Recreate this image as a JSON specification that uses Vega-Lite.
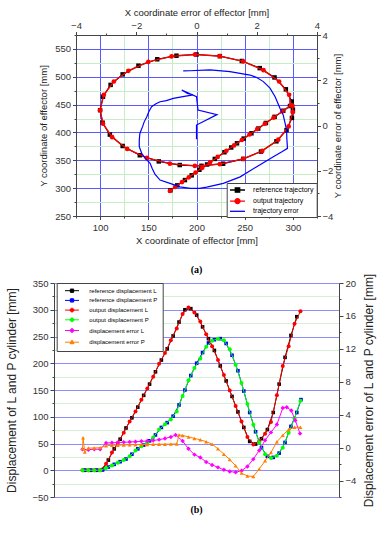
{
  "$schema": "https://vega.github.io/schema/vega-lite/v6.json",
  "autosize": {"type": "none"},
  "padding": {"left": 54, "top": 35, "right": 325, "bottom": 515},
  "background": "white",
  "config": {
    "font": "Liberation Sans",
    "view": {"stroke": null},
    "axis": {
      "labelFont": "Liberation Sans", "titleFont": "Liberation Sans",
      "labelFontSize": 9.5, "titleFontSize": 9.5,
      "labelColor": "#333333", "titleColor": "#222222", "titleFontWeight": "normal",
      "domainColor": "#444444", "tickColor": "#444444",
      "labelFlush": false, "labelOverlap": false, "labelPadding": 2
    }
  },
  "datasets": {
    "traj": [
      {"s":"ref","i":0,"x":173,"y":296.2},{"s":"ref","i":1,"x":180,"y":305},{"s":"ref","i":2,"x":188,"y":314.5},{"s":"ref","i":3,"x":195,"y":323},{"s":"ref","i":4,"x":203,"y":333},{"s":"ref","i":5,"x":211,"y":342.5},{"s":"ref","i":6,"x":219,"y":352.5},{"s":"ref","i":7,"x":229,"y":364.5},{"s":"ref","i":8,"x":236,"y":373},{"s":"ref","i":9,"x":242,"y":380.5},{"s":"ref","i":10,"x":249,"y":389},{"s":"ref","i":11,"x":257,"y":398.5},{"s":"ref","i":12,"x":264,"y":407},{"s":"ref","i":13,"x":272,"y":417},{"s":"ref","i":14,"x":281,"y":428},{"s":"ref","i":15,"x":290,"y":439},{"s":"ref","i":16,"x":297,"y":447.5},
      {"s":"ref","i":17,"x":298.8,"y":455.6},{"s":"ref","i":18,"x":292.7,"y":477.5},{"s":"ref","i":19,"x":280.9,"y":498.8},{"s":"ref","i":20,"x":265.6,"y":515.5},{"s":"ref","i":21,"x":247,"y":528.3},{"s":"ref","i":22,"x":224.2,"y":537},{"s":"ref","i":23,"x":200,"y":540},{"s":"ref","i":24,"x":179.2,"y":537.8},{"s":"ref","i":25,"x":159.3,"y":531.4},{"s":"ref","i":26,"x":139.8,"y":519.9},{"s":"ref","i":27,"x":123.4,"y":504.3},{"s":"ref","i":28,"x":110.9,"y":485.4},{"s":"ref","i":29,"x":103,"y":464.2},{"s":"ref","i":30,"x":100,"y":440},{"s":"ref","i":31,"x":102.6,"y":417.5},{"s":"ref","i":32,"x":110.1,"y":396.2},{"s":"ref","i":33,"x":123.4,"y":375.7},{"s":"ref","i":34,"x":141.2,"y":359.1},{"s":"ref","i":35,"x":160.9,"y":348},{"s":"ref","i":36,"x":182.6,"y":341.5},{"s":"ref","i":37,"x":205.2,"y":340.1},{"s":"ref","i":38,"x":227.6,"y":343.9},{"s":"ref","i":39,"x":248.5,"y":352.5},{"s":"ref","i":40,"x":266.9,"y":365.7},{"s":"ref","i":41,"x":282.9,"y":384.1},{"s":"ref","i":42,"x":293.4,"y":404.2},{"s":"ref","i":43,"x":299,"y":426.1},{"s":"ref","i":44,"x":300,"y":441},
      {"s":"out","i":0,"x":172.4,"y":295},{"s":"out","i":1,"x":178,"y":302.3},{"s":"out","i":2,"x":185,"y":310.9},{"s":"out","i":3,"x":192,"y":319.4},{"s":"out","i":4,"x":199,"y":328},{"s":"out","i":5,"x":206,"y":336.5},{"s":"out","i":6,"x":214,"y":346.2},{"s":"out","i":7,"x":222,"y":356},{"s":"out","i":8,"x":231,"y":367},{"s":"out","i":9,"x":239,"y":376.7},{"s":"out","i":10,"x":247,"y":386.5},{"s":"out","i":11,"x":255,"y":396.3},{"s":"out","i":12,"x":263,"y":406},{"s":"out","i":13,"x":271,"y":415.8},{"s":"out","i":14,"x":280,"y":426.8},{"s":"out","i":15,"x":289,"y":437.7},{"s":"out","i":16,"x":298,"y":448.7},
      {"s":"out","i":17,"x":296.1,"y":467.6},{"s":"out","i":18,"x":285.7,"y":491.5},{"s":"out","i":19,"x":269.5,"y":511.9},{"s":"out","i":20,"x":248.5,"y":527.5},{"s":"out","i":21,"x":224.2,"y":537},{"s":"out","i":22,"x":198.3,"y":540},{"s":"out","i":23,"x":174.1,"y":536.6},{"s":"out","i":24,"x":150,"y":526.6},{"s":"out","i":25,"x":129.3,"y":510.7},{"s":"out","i":26,"x":114.3,"y":491.5},{"s":"out","i":27,"x":103.9,"y":467.6},{"s":"out","i":28,"x":100,"y":440},{"s":"out","i":29,"x":103,"y":415.8},{"s":"out","i":30,"x":112.5,"y":391.5},{"s":"out","i":31,"x":128.1,"y":370.5},{"s":"out","i":32,"x":148.5,"y":354.3},{"s":"out","i":33,"x":172.4,"y":343.9},{"s":"out","i":34,"x":198.3,"y":340},{"s":"out","i":35,"x":224.2,"y":343},{"s":"out","i":36,"x":248.5,"y":352.5},{"s":"out","i":37,"x":268.2,"y":366.9},{"s":"out","i":38,"x":284.8,"y":387},{"s":"out","i":39,"x":295.6,"y":410.8},{"s":"out","i":40,"x":299.9,"y":436.5},{"s":"out","i":41,"x":299.6,"y":448}
    ],
    "err": [
      {"i":0,"ex":0,"ey":-0.61},{"i":1,"ex":0,"ey":0.02},{"i":2,"ex":0.68,"ey":0.48},{"i":3,"ex":0.05,"ey":0.68},{"i":4,"ex":0,"ey":1.27},{"i":5,"ex":-0.49,"ey":1.57},{"i":6,"ex":-0.3,"ey":1.42},{"i":7,"ex":-0.11,"ey":1.35},{"i":8,"ex":-0.45,"ey":1.28},{"i":9,"ex":-0.77,"ey":1.2},{"i":10,"ex":-1.0,"ey":1.1},{"i":11,"ex":-1.21,"ey":1.05},{"i":12,"ex":-1.36,"ey":0.95},{"i":13,"ex":-1.49,"ey":0.83},{"i":14,"ex":-1.58,"ey":0.62},{"i":15,"ex":-1.65,"ey":0.39},{"i":16,"ex":-1.74,"ey":0.15},{"i":17,"ex":-1.79,"ey":-0.05},{"i":18,"ex":-1.88,"ey":-0.35},{"i":19,"ex":-1.9,"ey":-0.65},{"i":20,"ex":-1.9,"ey":-0.94},{"i":21,"ex":-1.82,"ey":-1.23},{"i":22,"ex":-1.7,"ey":-1.45},{"i":23,"ex":-1.54,"ey":-1.67},{"i":24,"ex":-1.47,"ey":-1.9},{"i":25,"ex":-1.38,"ey":-2.15},{"i":26,"ex":-1.21,"ey":-2.41},{"i":27,"ex":-0.88,"ey":-2.56},{"i":28,"ex":-0.55,"ey":-2.71},{"i":29,"ex":-0.2,"ey":-2.78},{"i":30,"ex":0.1,"ey":-2.78},{"i":31,"ex":0.34,"ey":-2.72},{"i":32,"ex":0.89,"ey":-2.56},{"i":33,"ex":1.45,"ey":-2.27},{"i":34,"ex":2.0,"ey":-1.82},{"i":35,"ex":2.55,"ey":-1.38},{"i":36,"ex":2.85,"ey":-1.15},{"i":37,"ex":3.02,"ey":-1.01},{"i":38,"ex":3.0,"ey":-0.6},{"i":39,"ex":2.99,"ey":-0.2},{"i":40,"ex":2.94,"ey":0.1},{"i":41,"ex":2.88,"ey":0.46},{"i":42,"ex":2.77,"ey":0.76},{"i":43,"ex":2.68,"ey":1.05},{"i":44,"ex":2.61,"ey":1.27},{"i":45,"ex":2.44,"ey":1.65},{"i":46,"ex":2.22,"ey":1.94},{"i":47,"ex":2.0,"ey":2.12},{"i":48,"ex":1.78,"ey":2.23},{"i":49,"ex":1.11,"ey":2.38},{"i":50,"ex":0.45,"ey":2.46},{"i":51,"ex":-0.22,"ey":2.42},{"i":52,"ex":-0.44,"ey":2.41}
    ],
    "disp": [
      {"s":"refL","t":0.12,"v":0},{"s":"refL","t":0.43,"v":0},{"s":"refL","t":0.74,"v":0},{"s":"refL","t":1.05,"v":1},{"s":"refL","t":1.36,"v":19},{"s":"refL","t":1.67,"v":40},{"s":"refL","t":1.98,"v":58},{"s":"refL","t":2.29,"v":79},{"s":"refL","t":2.6,"v":98},{"s":"refL","t":2.91,"v":118},{"s":"refL","t":3.22,"v":140},{"s":"refL","t":3.53,"v":161},{"s":"refL","t":3.84,"v":184},{"s":"refL","t":4.15,"v":206},{"s":"refL","t":4.46,"v":227},{"s":"refL","t":4.77,"v":251},{"s":"refL","t":5.08,"v":277},{"s":"refL","t":5.39,"v":300},{"s":"refL","t":5.7,"v":302},{"s":"refL","t":6.01,"v":290},{"s":"refL","t":6.32,"v":268},{"s":"refL","t":6.63,"v":246},{"s":"refL","t":6.94,"v":224},{"s":"refL","t":7.25,"v":195},{"s":"refL","t":7.56,"v":167},{"s":"refL","t":7.87,"v":138},{"s":"refL","t":8.18,"v":109},{"s":"refL","t":8.49,"v":80},{"s":"refL","t":8.8,"v":54},{"s":"refL","t":9.11,"v":49},{"s":"refL","t":9.42,"v":59},{"s":"refL","t":9.73,"v":76},{"s":"refL","t":10.04,"v":108},{"s":"refL","t":10.35,"v":161},{"s":"refL","t":10.66,"v":211},{"s":"refL","t":10.97,"v":252},{"s":"refL","t":11.28,"v":287},
      {"s":"refP","t":0.12,"v":0},{"s":"refP","t":0.43,"v":0},{"s":"refP","t":0.74,"v":0},{"s":"refP","t":1.05,"v":1},{"s":"refP","t":1.36,"v":6},{"s":"refP","t":1.67,"v":11},{"s":"refP","t":1.98,"v":16},{"s":"refP","t":2.29,"v":21},{"s":"refP","t":2.6,"v":30},{"s":"refP","t":2.91,"v":40},{"s":"refP","t":3.22,"v":47},{"s":"refP","t":3.53,"v":55},{"s":"refP","t":3.84,"v":66},{"s":"refP","t":4.15,"v":80},{"s":"refP","t":4.46,"v":89},{"s":"refP","t":4.77,"v":101},{"s":"refP","t":5.08,"v":122},{"s":"refP","t":5.39,"v":150},{"s":"refP","t":5.7,"v":177},{"s":"refP","t":6.01,"v":200},{"s":"refP","t":6.32,"v":220},{"s":"refP","t":6.63,"v":238},{"s":"refP","t":6.94,"v":244},{"s":"refP","t":7.25,"v":246},{"s":"refP","t":7.56,"v":237},{"s":"refP","t":7.87,"v":215},{"s":"refP","t":8.18,"v":186},{"s":"refP","t":8.49,"v":148},{"s":"refP","t":8.8,"v":108},{"s":"refP","t":9.11,"v":72},{"s":"refP","t":9.42,"v":42},{"s":"refP","t":9.73,"v":26},{"s":"refP","t":10.04,"v":24},{"s":"refP","t":10.35,"v":32},{"s":"refP","t":10.66,"v":52},{"s":"refP","t":10.97,"v":82},{"s":"refP","t":11.28,"v":108},{"s":"refP","t":11.5,"v":132},
      {"s":"outL","t":0,"v":0},{"s":"outL","t":0.31,"v":0},{"s":"outL","t":0.62,"v":0},{"s":"outL","t":0.93,"v":0},{"s":"outL","t":1.24,"v":12},{"s":"outL","t":1.55,"v":33},{"s":"outL","t":1.86,"v":51},{"s":"outL","t":2.17,"v":70},{"s":"outL","t":2.48,"v":91},{"s":"outL","t":2.79,"v":110},{"s":"outL","t":3.1,"v":132},{"s":"outL","t":3.41,"v":153},{"s":"outL","t":3.72,"v":175},{"s":"outL","t":4.03,"v":199},{"s":"outL","t":4.34,"v":219},{"s":"outL","t":4.65,"v":243},{"s":"outL","t":4.96,"v":265},{"s":"outL","t":5.27,"v":292},{"s":"outL","t":5.58,"v":304},{"s":"outL","t":5.89,"v":295},{"s":"outL","t":6.2,"v":278},{"s":"outL","t":6.51,"v":254},{"s":"outL","t":6.82,"v":232},{"s":"outL","t":7.13,"v":206},{"s":"outL","t":7.44,"v":178},{"s":"outL","t":7.75,"v":149},{"s":"outL","t":8.06,"v":120},{"s":"outL","t":8.37,"v":91},{"s":"outL","t":8.68,"v":62},{"s":"outL","t":8.99,"v":48},{"s":"outL","t":9.3,"v":54},{"s":"outL","t":9.61,"v":68},{"s":"outL","t":9.92,"v":90},{"s":"outL","t":10.23,"v":140},{"s":"outL","t":10.54,"v":195},{"s":"outL","t":10.85,"v":232},{"s":"outL","t":11.16,"v":274},{"s":"outL","t":11.47,"v":297},
      {"s":"outP","t":0,"v":0},{"s":"outP","t":0.31,"v":0},{"s":"outP","t":0.62,"v":0},{"s":"outP","t":0.93,"v":0},{"s":"outP","t":1.24,"v":4},{"s":"outP","t":1.55,"v":9},{"s":"outP","t":1.86,"v":14},{"s":"outP","t":2.17,"v":19},{"s":"outP","t":2.48,"v":26},{"s":"outP","t":2.79,"v":37},{"s":"outP","t":3.1,"v":45},{"s":"outP","t":3.41,"v":52},{"s":"outP","t":3.72,"v":61},{"s":"outP","t":4.03,"v":76},{"s":"outP","t":4.34,"v":86},{"s":"outP","t":4.65,"v":95},{"s":"outP","t":4.96,"v":110},{"s":"outP","t":5.27,"v":139},{"s":"outP","t":5.58,"v":168},{"s":"outP","t":5.89,"v":191},{"s":"outP","t":6.2,"v":209},{"s":"outP","t":6.51,"v":231},{"s":"outP","t":6.82,"v":242},{"s":"outP","t":7.13,"v":246},{"s":"outP","t":7.44,"v":243},{"s":"outP","t":7.75,"v":226},{"s":"outP","t":8.06,"v":197},{"s":"outP","t":8.37,"v":163},{"s":"outP","t":8.68,"v":124},{"s":"outP","t":8.99,"v":85},{"s":"outP","t":9.3,"v":52},{"s":"outP","t":9.61,"v":30},{"s":"outP","t":9.92,"v":23},{"s":"outP","t":10.23,"v":27},{"s":"outP","t":10.54,"v":42},{"s":"outP","t":10.85,"v":70},{"s":"outP","t":11.16,"v":97},{"s":"outP","t":11.47,"v":130}
    ],
    "derr": [
      {"s":"errL","t":0,"e":-0.2},{"s":"errL","t":0.31,"e":-0.25},{"s":"errL","t":0.62,"e":-0.2},{"s":"errL","t":0.93,"e":-0.2},{"s":"errL","t":1.24,"e":0.55},{"s":"errL","t":1.55,"e":0.6},{"s":"errL","t":1.86,"e":0.62},{"s":"errL","t":2.17,"e":0.65},{"s":"errL","t":2.48,"e":0.68},{"s":"errL","t":2.79,"e":0.72},{"s":"errL","t":3.1,"e":0.76},{"s":"errL","t":3.41,"e":0.8},{"s":"errL","t":3.72,"e":0.87},{"s":"errL","t":4.03,"e":0.97},{"s":"errL","t":4.34,"e":1.1},{"s":"errL","t":4.65,"e":1.3},{"s":"errL","t":4.9,"e":1.52},{"s":"errL","t":5.27,"e":0.8},{"s":"errL","t":5.58,"e":-0.15},{"s":"errL","t":5.89,"e":-0.85},{"s":"errL","t":6.2,"e":-1.2},{"s":"errL","t":6.51,"e":-1.75},{"s":"errL","t":6.82,"e":-2.1},{"s":"errL","t":7.13,"e":-2.4},{"s":"errL","t":7.44,"e":-2.7},{"s":"errL","t":7.75,"e":-2.9},{"s":"errL","t":8.06,"e":-3.0},{"s":"errL","t":8.37,"e":-2.8},{"s":"errL","t":8.68,"e":-2.3},{"s":"errL","t":8.99,"e":-1.4},{"s":"errL","t":9.3,"e":-0.35},{"s":"errL","t":9.61,"e":0.9},{"s":"errL","t":9.92,"e":1.85},{"s":"errL","t":10.23,"e":2.8},{"s":"errL","t":10.54,"e":4.8},{"s":"errL","t":10.75,"e":4.9},{"s":"errL","t":10.99,"e":4.5},{"s":"errL","t":11.2,"e":3.3},{"s":"errL","t":11.45,"e":1.7},
      {"s":"errP","t":0,"e":-0.1},{"s":"errP","t":0.03,"e":1.2},{"s":"errP","t":0.12,"e":-0.55},{"s":"errP","t":0.31,"e":-0.05},{"s":"errP","t":0.62,"e":-0.05},{"s":"errP","t":0.93,"e":0},{"s":"errP","t":1.24,"e":0.22},{"s":"errP","t":1.55,"e":0.28},{"s":"errP","t":1.86,"e":0.3},{"s":"errP","t":2.17,"e":0.32},{"s":"errP","t":2.48,"e":0.34},{"s":"errP","t":2.79,"e":0.35},{"s":"errP","t":3.1,"e":0.37},{"s":"errP","t":3.41,"e":0.38},{"s":"errP","t":3.72,"e":0.4},{"s":"errP","t":4.03,"e":0.41},{"s":"errP","t":4.34,"e":0.42},{"s":"errP","t":4.65,"e":0.43},{"s":"errP","t":4.96,"e":0.45},{"s":"errP","t":5.08,"e":1.55},{"s":"errP","t":5.27,"e":1.48},{"s":"errP","t":5.58,"e":1.3},{"s":"errP","t":5.89,"e":1.12},{"s":"errP","t":6.2,"e":0.95},{"s":"errP","t":6.51,"e":0.72},{"s":"errP","t":6.82,"e":0.42},{"s":"errP","t":7.13,"e":-0.15},{"s":"errP","t":7.44,"e":-0.8},{"s":"errP","t":7.75,"e":-1.45},{"s":"errP","t":8.06,"e":-2.2},{"s":"errP","t":8.37,"e":-3.1},{"s":"errP","t":8.68,"e":-3.45},{"s":"errP","t":8.99,"e":-3.5},{"s":"errP","t":9.3,"e":-2.6},{"s":"errP","t":9.61,"e":-1.6},{"s":"errP","t":9.92,"e":-0.6},{"s":"errP","t":10.23,"e":0.7},{"s":"errP","t":10.54,"e":1.5},{"s":"errP","t":10.85,"e":2.2},{"s":"errP","t":11.16,"e":2.47},{"s":"errP","t":11.47,"e":2.47}
    ]
  },
  "bounds": "flush",
  "center": true,
  "spacing": 67,
  "resolve": {"scale": {"fill": "independent", "stroke": "independent", "shape": "independent"}, "legend": {"fill": "independent", "stroke": "independent", "shape": "independent"}},
  "vconcat": [
    {
      "width": 241,
      "height": 181,
      "title": {"text": "(a)", "orient": "bottom", "font": "Liberation Serif", "fontSize": 10, "fontWeight": "bold", "color": "#000000", "offset": 20, "anchor": "middle"},
      "layer": [
        {
          "data": {"name": "traj"},
          "encoding": {
            "x": {"field": "x", "type": "quantitative", "scale": {"domain": [75, 325], "nice": false, "zero": false},
              "axis": {"orient": "bottom", "title": "X coordinate of effector [mm]", "values": [75,100,125,150,175,200,225,250,275,300,325],
                "labelExpr": "datum.value % 50 === 0 ? datum.label : ''", "grid": true,
                "gridColor": {"condition": {"test": "datum.value % 50 === 0", "value": "#5a5aff"}, "value": "#c6eec6"},
                "tickSize": {"condition": {"test": "datum.value % 50 === 0", "value": 3.5}, "value": 2},
                "labelPadding": 3, "titlePadding": 3}},
            "y": {"field": "y", "type": "quantitative", "scale": {"domain": [250, 575], "nice": false, "zero": false},
              "axis": {"orient": "left", "title": "Y coordinate of effector [mm]", "values": [250,275,300,325,350,375,400,425,450,475,500,525,550,575],
                "labelExpr": "datum.value % 50 === 0 ? datum.label : ''", "grid": true,
                "gridColor": {"condition": {"test": "datum.value % 50 === 0", "value": "#5a5aff"}, "value": "#c6eec6"},
                "tickSize": {"condition": {"test": "datum.value % 50 === 0", "value": 3.5}, "value": 2},
                "labelPadding": 2, "titlePadding": 6}},
            "order": {"field": "i", "type": "quantitative"}
          },
          "layer": [
            {"transform": [{"filter": "datum.s === 'ref'"}],
             "mark": {"type": "line", "color": "#000000", "strokeWidth": 1.2, "point": {"filled": true, "shape": "square", "size": 20, "color": "#000000", "opacity": 1}}},
            {"transform": [{"filter": "datum.s === 'out'"}],
             "mark": {"type": "line", "color": "#ff0000", "strokeWidth": 1.3, "point": {"filled": true, "shape": "circle", "size": 22, "color": "#ff0000", "opacity": 1}}},
            {"transform": [{"filter": "false"}],
             "mark": {"type": "point", "filled": true, "opacity": 1},
             "encoding": {
               "fill": {"field": "s", "type": "nominal",
                 "scale": {"domain": ["reference trajectory", "output trajectory", "trajectory error"], "range": ["#000000", "#ff0000", "#0000ff"]},
                 "legend": {"orient": "none", "legendX": 150.7, "legendY": 148, "title": null, "symbolSize": 49, "symbolStrokeWidth": 1.3, "symbolOffset": 3.8, "labelOffset": 11.1, "labelFontSize": 7, "labelFont": "Liberation Sans", "labelColor": "#000000", "rowPadding": 0.15, "padding": 2.5, "strokeColor": "#444444", "fillColor": "#ffffff", "cornerRadius": 0}},
               "stroke": {"field": "s", "type": "nominal",
                 "scale": {"domain": ["reference trajectory", "output trajectory", "trajectory error"], "range": ["#000000", "#ff0000", "#0000ff"]},
                 "legend": {"orient": "none", "legendX": 150.7, "legendY": 148, "title": null, "symbolSize": 49, "symbolStrokeWidth": 1.3, "symbolOffset": 3.8, "labelOffset": 11.1, "labelFontSize": 7, "labelFont": "Liberation Sans", "labelColor": "#000000", "rowPadding": 0.15, "padding": 2.5, "strokeColor": "#444444", "fillColor": "#ffffff", "cornerRadius": 0}},
               "shape": {"field": "s", "type": "nominal",
                 "scale": {"domain": ["reference trajectory", "output trajectory", "trajectory error"], "range": ["M-2.14,0H2.14M-0.63,-0.63H0.63V0.63H-0.63Z", "M-2.14,0H2.14M-0.71,0A0.71,0.71,0,1,0,0.71,0A0.71,0.71,0,1,0,-0.71,0Z", "M-2.14,0H2.14"]},
                 "legend": {"orient": "none", "legendX": 150.7, "legendY": 148, "title": null, "symbolSize": 49, "symbolStrokeWidth": 1.3, "symbolOffset": 3.8, "labelOffset": 11.1, "labelFontSize": 7, "labelFont": "Liberation Sans", "labelColor": "#000000", "rowPadding": 0.15, "padding": 2.5, "strokeColor": "#444444", "fillColor": "#ffffff", "cornerRadius": 0}}
             }}
          ]
        },
        {
          "data": {"name": "err"},
          "mark": {"type": "line", "color": "#0000ff", "strokeWidth": 1.2},
          "encoding": {
            "x": {"field": "ex", "type": "quantitative", "scale": {"domain": [-4, 4], "nice": false, "zero": false},
              "axis": {"orient": "top", "title": "X coordinate error of effector [mm]", "values": [-4,-3,-2,-1,0,1,2,3,4],
                "labelExpr": "datum.value % 2 === 0 ? datum.label : ''", "grid": false,
                "tickSize": {"condition": {"test": "datum.value % 2 === 0", "value": 3.5}, "value": 2},
                "labelPadding": 1.5, "titlePadding": 3}},
            "y": {"field": "ey", "type": "quantitative", "scale": {"domain": [-4, 4], "nice": false, "zero": false},
              "axis": {"orient": "right", "title": "Y coordinate error of effector [mm]", "titleAngle": 270, "titleBaseline": "top", "values": [-4,-3,-2,-1,0,1,2,3,4],
                "labelExpr": "datum.value % 2 === 0 ? datum.label : ''", "grid": false,
                "tickSize": {"condition": {"test": "datum.value % 2 === 0", "value": 3.5}, "value": 2},
                "labelPadding": 1.5, "titlePadding": 0}},
            "order": {"field": "i", "type": "quantitative"}
          }
        }
      ],
      "resolve": {"scale": {"x": "independent", "y": "independent"}}
    },
    {
      "width": 285,
      "height": 214,
      "title": {"text": "(b)", "orient": "bottom", "font": "Liberation Serif", "fontSize": 10, "fontWeight": "bold", "color": "#000000", "offset": -2, "anchor": "middle"},
      "layer": [
        {
          "data": {"name": "disp"},
          "encoding": {
            "x": {"field": "t", "type": "quantitative", "scale": {"domain": [-1.5, 13.5], "nice": false, "zero": false},
              "axis": {"orient": "bottom", "title": "Time [s]", "titleFontSize": 11, "values": [-1.5,0,1.5,3,4.5,6,7.5,9,10.5,12,13.5],
                "labelExpr": "datum.value % 3 === 0 ? datum.label : ''", "grid": true,
                "gridColor": {"condition": {"test": "datum.value % 3 === 0", "value": "#8c8cff"}, "value": "#d6f0d6"},
                "tickSize": {"condition": {"test": "datum.value % 3 === 0", "value": 4}, "value": 2},
                "labelPadding": 3, "titlePadding": 4}},
            "y": {"field": "v", "type": "quantitative", "scale": {"domain": [-50, 350], "nice": false, "zero": false},
              "axis": {"orient": "left", "title": "Displacement of L and P cylinder [mm]", "titleFontSize": 12, "values": [-50,-25,0,25,50,75,100,125,150,175,200,225,250,275,300,325,350],
                "labelExpr": "datum.value % 50 === 0 ? datum.label : ''", "grid": true,
                "gridColor": {"condition": {"test": "datum.value % 50 === 0", "value": "#8c8cff"}, "value": "#d6f0d6"},
                "tickSize": {"condition": {"test": "datum.value % 50 === 0", "value": 4}, "value": 2},
                "labelPadding": 2, "titlePadding": 13}}
          },
          "layer": [
            {"transform": [{"filter": "datum.s === 'refL'"}],
             "mark": {"type": "line", "color": "#000000", "strokeWidth": 1, "point": {"filled": true, "shape": "square", "size": 13, "color": "#000000", "opacity": 1}}},
            {"transform": [{"filter": "datum.s === 'refP'"}],
             "mark": {"type": "line", "color": "#0000ff", "strokeWidth": 1, "point": {"filled": true, "shape": "square", "size": 13, "color": "#0000ff", "opacity": 1}}},
            {"transform": [{"filter": "datum.s === 'outL'"}],
             "mark": {"type": "line", "color": "#ff0000", "strokeWidth": 1, "point": {"filled": true, "shape": "circle", "size": 16, "color": "#ff0000", "opacity": 1}}},
            {"transform": [{"filter": "datum.s === 'outP'"}],
             "mark": {"type": "line", "color": "#00ff00", "strokeWidth": 1, "point": {"filled": true, "shape": "circle", "size": 16, "color": "#00ff00", "opacity": 1}}},
            {"transform": [{"filter": "false"}],
             "mark": {"type": "point", "filled": true, "opacity": 1},
             "encoding": {
               "fill": {"field": "s", "type": "nominal",
                 "scale": {"domain": ["reference displacement L", "reference displacement P", "output displacement L", "output displacement P", "displacement error L", "displacement error P"], "range": ["#000000", "#0000ff", "#ff0000", "#00ff00", "#ff00ff", "#ff8000"]},
                 "legend": {"orient": "none", "legendX": 2.7, "legendY": 0, "title": null, "symbolSize": 25, "symbolStrokeWidth": 1, "symbolOffset": 7.6, "labelOffset": 14.3, "labelFontSize": 6, "labelFont": "Liberation Sans", "labelColor": "#000000", "rowPadding": 1.7, "padding": 4.7, "strokeColor": "#444444", "fillColor": "#ffffff", "cornerRadius": 0}},
               "stroke": {"field": "s", "type": "nominal",
                 "scale": {"domain": ["reference displacement L", "reference displacement P", "output displacement L", "output displacement P", "displacement error L", "displacement error P"], "range": ["#000000", "#0000ff", "#ff0000", "#00ff00", "#ff00ff", "#ff8000"]},
                 "legend": {"orient": "none", "legendX": 2.7, "legendY": 0, "title": null, "symbolSize": 25, "symbolStrokeWidth": 1, "symbolOffset": 7.6, "labelOffset": 14.3, "labelFontSize": 6, "labelFont": "Liberation Sans", "labelColor": "#000000", "rowPadding": 1.7, "padding": 4.7, "strokeColor": "#444444", "fillColor": "#ffffff", "cornerRadius": 0}},
               "shape": {"field": "s", "type": "nominal",
                 "scale": {"domain": ["reference displacement L", "reference displacement P", "output displacement L", "output displacement P", "displacement error L", "displacement error P"],
                   "range": ["M-2.8,0H2.8M-0.66,-0.66H0.66V0.66H-0.66Z", "M-2.8,0H2.8M-0.66,-0.66H0.66V0.66H-0.66Z", "M-2.8,0H2.8M-0.75,0A0.75,0.75,0,1,0,0.75,0A0.75,0.75,0,1,0,-0.75,0Z", "M-2.8,0H2.8M-0.75,0A0.75,0.75,0,1,0,0.75,0A0.75,0.75,0,1,0,-0.75,0Z", "M-2.8,0H2.8M0,-0.9L0.9,0L0,0.9L-0.9,0Z", "M-2.8,0H2.8M0,-0.85L0.8,0.6H-0.8Z"]},
                 "legend": {"orient": "none", "legendX": 2.7, "legendY": 0, "title": null, "symbolSize": 25, "symbolStrokeWidth": 1, "symbolOffset": 7.6, "labelOffset": 14.3, "labelFontSize": 6, "labelFont": "Liberation Sans", "labelColor": "#000000", "rowPadding": 1.7, "padding": 4.7, "strokeColor": "#444444", "fillColor": "#ffffff", "cornerRadius": 0}}
             }}
          ]
        },
        {
          "data": {"name": "derr"},
          "encoding": {
            "x": {"field": "t", "type": "quantitative", "scale": {"domain": [-1.5, 13.5], "nice": false, "zero": false}, "axis": null},
            "y": {"field": "e", "type": "quantitative", "scale": {"domain": [-6, 20], "nice": false, "zero": false},
              "axis": {"orient": "right", "title": "Displacement error of L and P cylinder [mm]", "titleFontSize": 12, "titleAngle": 270, "titleBaseline": "top", "values": [-6,-4,-2,0,2,4,6,8,10,12,14,16,18,20],
                "labelExpr": "datum.value % 4 === 0 ? datum.label : ''", "grid": false,
                "tickSize": {"condition": {"test": "datum.value % 4 === 0", "value": 4}, "value": 2},
                "labelPadding": 2, "titlePadding": 7.5}}
          },
          "layer": [
            {"transform": [{"filter": "datum.s === 'errL'"}],
             "mark": {"type": "line", "color": "#ff00ff", "strokeWidth": 1, "point": {"filled": true, "shape": "diamond", "size": 20, "color": "#ff00ff", "opacity": 1}}},
            {"transform": [{"filter": "datum.s === 'errP'"}],
             "mark": {"type": "line", "color": "#ff8000", "strokeWidth": 1, "point": {"filled": true, "shape": "triangle-up", "size": 16, "color": "#ff8000", "opacity": 1}}}
          ]
        }
      ],
      "resolve": {"scale": {"y": "independent"}}
    }
  ]
}
